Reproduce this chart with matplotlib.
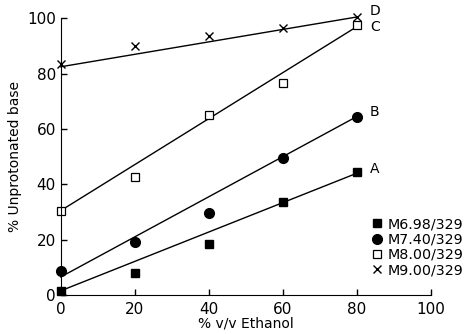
import matplotlib
matplotlib.use("Agg")
import matplotlib.pyplot as plt

ethanol = [0, 20, 40, 60, 80]

# measured points
a_vals = [1.5, 8, 18.5, 33.5, 44.5]
b_vals = [8.5, 19, 29.5, 49.5, 64.5]
c_vals = [30.5, 42.5, 65, 76.5, 97.5]
d_vals = [83.5, 90, 93.5, 96.5, 100.5]

# drawn fit lines (ends at 0 and 80)
fit_x = [0, 80]
a_fit = [1.5, 44]
b_fit = [6.5, 64.5]
c_fit = [30.5, 97]
d_fit = [82.5, 100.5]

legend_labels = ["M6.98/329", "M7.40/329", "M8.00/329", "M9.00/329"]
curve_names = ["A", "B", "C", "D"]

plt.rcParams['font.family'] = ['DejaVu Sans']

fig = plt.figure(figsize=(4.75, 3.34), dpi=100)
ax = fig.add_axes([0.128, 0.117, 0.779, 0.828])

line_kw = dict(color='black', lw=1.0, clip_on=False)
ax.plot(fit_x, a_fit, **line_kw)
ax.plot(fit_x, b_fit, **line_kw)
ax.plot(fit_x, c_fit, **line_kw)
ax.plot(fit_x, d_fit, **line_kw)

h1, = ax.plot(ethanol, a_vals, 's', color='black', ms=6, ls='none', clip_on=False)
h2, = ax.plot(ethanol, b_vals, 'o', color='black', ms=7, ls='none', clip_on=False)
h3, = ax.plot(ethanol, c_vals, 's', mfc='white', mec='black', mew=0.9, ms=6, ls='none', clip_on=False)
h4, = ax.plot(ethanol, d_vals, 'x', color='black', ms=6, mew=1.0, ls='none', clip_on=False)

ends = [a_fit[1], b_fit[1], c_fit[1], d_fit[1]]
offs = [1.5, 1.5, 0, 2]
for name, yv, o in zip(curve_names, ends, offs):
    ax.text(83.5, yv + o, name, fontsize=10, va='center', ha='left')

fig.legend([h1, h2, h3, h4], legend_labels, loc='upper left',
           bbox_to_anchor=(0.785, 0.35), frameon=False, fontsize=10.3,
           handlelength=0.6, handletextpad=0.4, labelspacing=0.1,
           borderpad=0, borderaxespad=0)

ax.set_xlim(0, 100)
ax.set_ylim(0, 100)
ax.set_xticks([0, 20, 40, 60, 80, 100])
ax.set_yticks([0, 20, 40, 60, 80, 100])
ax.tick_params(direction='in', length=4, labelsize=11, width=1)
ax.tick_params(axis='x', pad=5)
ax.spines['top'].set_visible(False)
ax.spines['right'].set_visible(False)
ax.set_xlabel('% v/v Ethanol', fontsize=10, labelpad=0)
ax.set_ylabel('% Unprotonated base', fontsize=10, labelpad=4)

fig.savefig('out.png', dpi=100)
